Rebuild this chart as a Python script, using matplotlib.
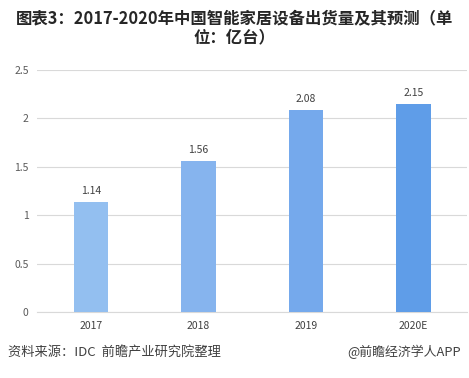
import matplotlib.pyplot as plt

plt.rcParams['font.family'] = ['Noto Sans CJK SC', 'DejaVu Sans']

years = ["2017", "2018", "2019", "2020E"]
shipments = [1.14, 1.56, 2.08, 2.15]
bar_colors = ["#93bff0", "#86b4ee", "#75a9ec", "#5f9de8"]
y_ticks = [0, 0.5, 1, 1.5, 2, 2.5]
y_tick_labels = ["0", "0.5", "1", "1.5", "2", "2.5"]

fig = plt.figure(figsize=(4.69, 3.78), dpi=100, facecolor="white")
ax = fig.add_axes([0.079, 0.174, 0.917, 0.642])

x = range(len(years))
bars = ax.bar(x, shipments, width=0.32, color=bar_colors, zorder=3)
for xi, v in zip(x, shipments):
    ax.text(xi, v + 0.06, f"{v:.2f}", ha="center", va="bottom", fontsize=7.5, color="#404040")

ax.set_xlim(-0.5, len(years) - 0.5)
ax.set_ylim(0, 2.5)
ax.set_xticks(list(x))
ax.set_xticklabels(years, fontsize=7.5, color="#404040")
ax.set_yticks(y_ticks)
ax.set_yticklabels(y_tick_labels, fontsize=7.5, color="#595959")
ax.tick_params(length=0, pad=6)
ax.grid(axis="y", color="#d9d9d9", linewidth=0.8, zorder=0)
for s in ["top", "right", "left"]:
    ax.spines[s].set_visible(False)
ax.spines["bottom"].set_color("#d9d9d9")
ax.spines["bottom"].set_linewidth(0.8)

fig.text(0.5, 0.975, "图表3：2017-2020年中国智能家居设备出货量及其预测（单\n位：亿台）",
         ha="center", va="top", fontsize=11.8, fontweight="bold", color="#262626", linespacing=1.1)
fig.text(0.017, 0.068, "资料来源：IDC  前瞻产业研究院整理", ha="left", va="center", fontsize=9.5, color="#404040")
fig.text(0.983, 0.068, "@前瞻经济学人APP", ha="right", va="center", fontsize=9.3, color="#404040")

fig.savefig("out.png", dpi=100)
